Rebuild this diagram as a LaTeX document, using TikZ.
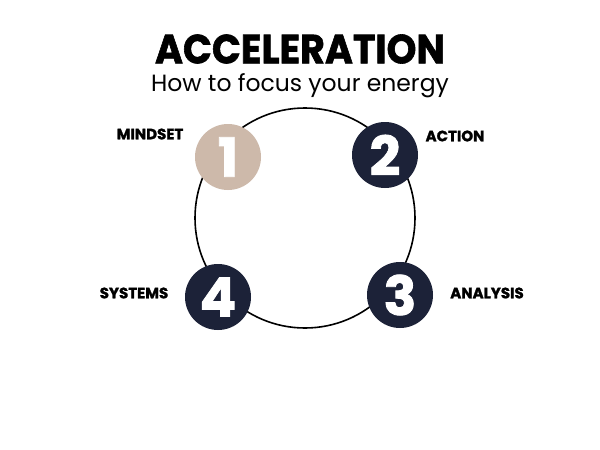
\documentclass[tikz,border=0pt]{standalone}
\usepackage{fontspec}
\setmainfont{Poppins}
\newfontfamily\heavy[FakeBold=1.5]{Poppins Bold}
\definecolor{navy}{HTML}{1C2238}
\definecolor{beige}{HTML}{CDB9AA}
\begin{document}
\begin{tikzpicture}[x=1pt,y=-1pt,
  num/.style={circle,minimum size=66pt,inner sep=0pt,font=\heavy\fontsize{54}{54}\selectfont,text=white},
  lab/.style={font=\heavy\fontsize{15}{15}\selectfont,text=black}]
\useasboundingbox[fill=white] (0,0) rectangle (600,450);
\node[inner sep=0] (title) at (300,49) {\resizebox{290pt}{29pt}{\heavy ACCELERATION}};
\node[inner sep=0,font=\fontsize{23.5}{23.5}\selectfont] (sub) at (300,86) {How to focus your energy};
\node[circle,draw=black,line width=1.6pt,minimum size=220pt,inner sep=0] (ring) at (305,218) {};
\node[num,fill=beige] (n1) at (228,157) {1};
\node[num,fill=navy] (n2) at (385,155) {2};
\node[num,fill=navy] (n3) at (400,295) {3};
\node[num,fill=navy] (n4) at (218,297) {4};
\node[lab] (l1) at (150,134) {MINDSET};
\node[lab] (l2) at (455,136) {ACTION};
\node[lab] (l3) at (487,293) {ANALYSIS};
\node[lab] (l4) at (134,293) {SYSTEMS};
\end{tikzpicture}
\end{document}
